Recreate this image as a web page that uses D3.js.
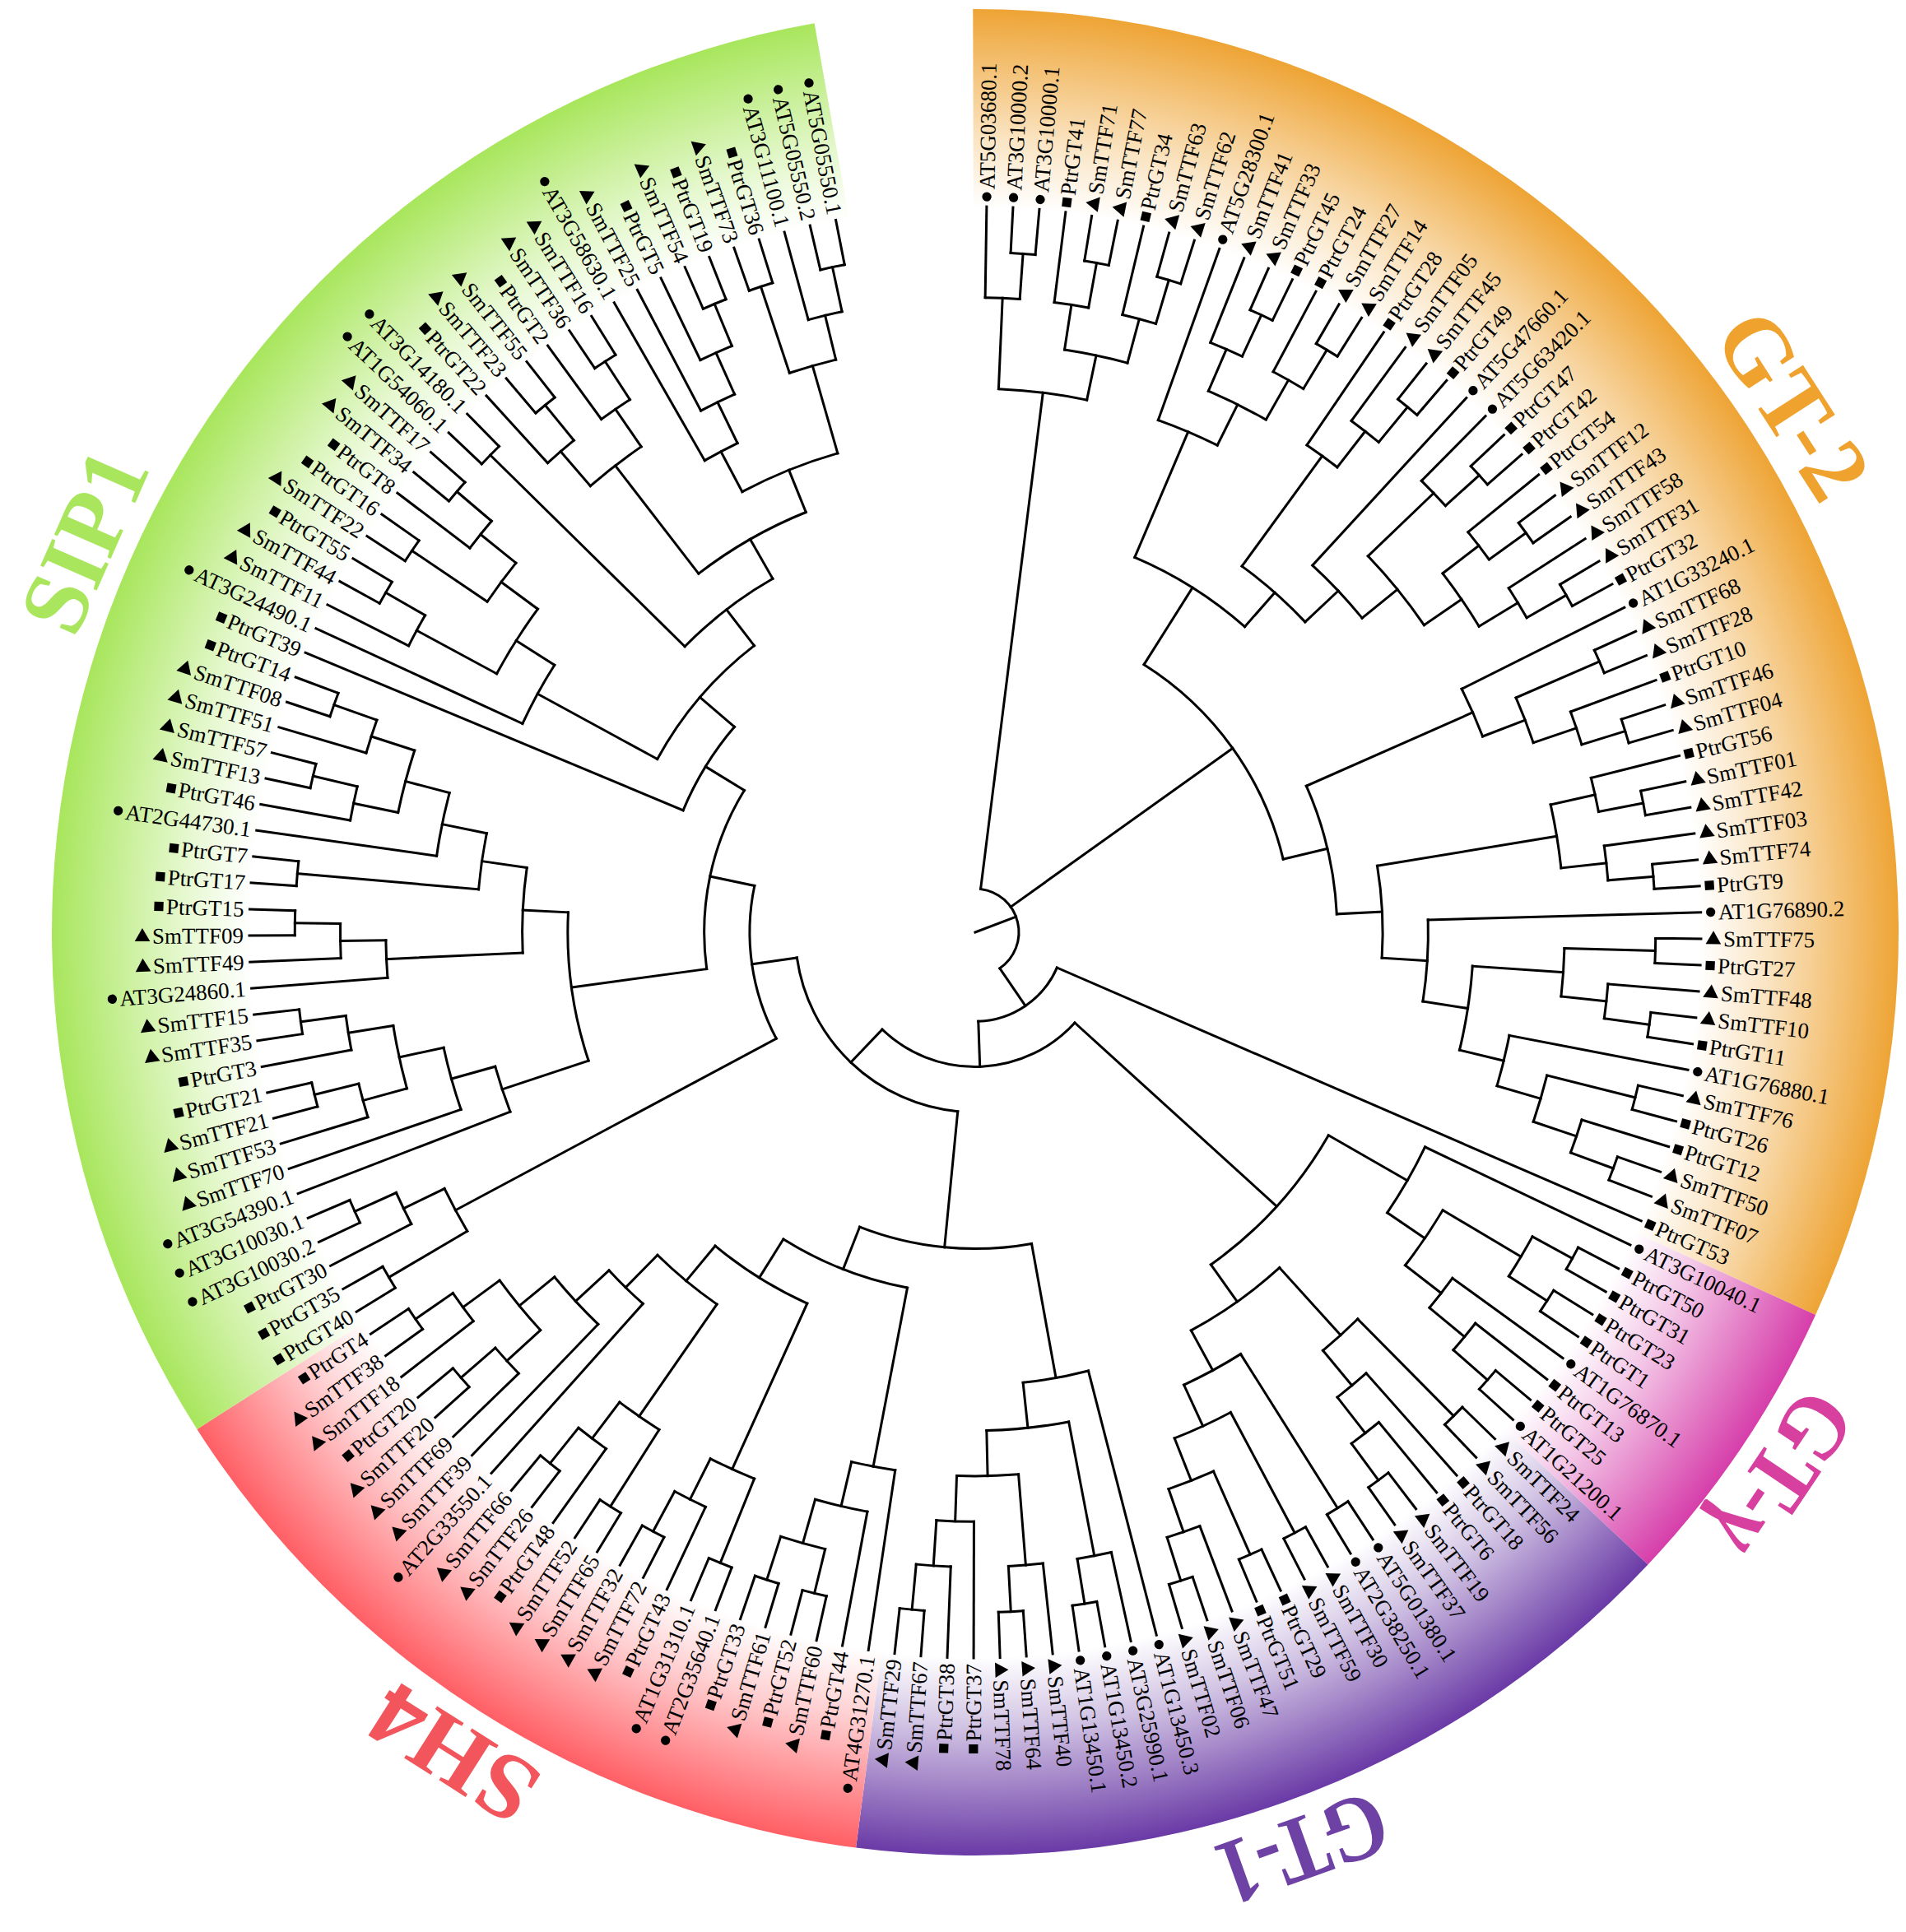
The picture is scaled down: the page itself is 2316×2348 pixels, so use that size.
<!DOCTYPE html>
<html>
<head>
<meta charset="utf-8">
<script src="https://cdn.jsdelivr.net/npm/d3@7"></script>
<style>
  body { margin: 0; background: #fff; }
</style>
</head>
<body>
<svg id="chart"></svg>
<script>
// tree topology as nested arrays, leaves listed clockwise from 12 o'clock
var gt2TopClade = [["AT5G03680.1",["AT3G10000.2","AT3G10000.1"]],[["PtrGT41",["SmTTF71","SmTTF77"]],["PtrGT34",["SmTTF63","SmTTF62"]]]];

var gt2Clade1 = [
  ["AT5G28300.1",[["SmTTF41",["SmTTF33","PtrGT45"]],["PtrGT24",["SmTTF27","SmTTF14"]]]],
  [["PtrGT28",["SmTTF05",["SmTTF45","PtrGT49"]]],
   ["AT5G47660.1",[["AT5G63420.1",["PtrGT47","PtrGT42"]],[["PtrGT54",["SmTTF12","SmTTF43"]],["SmTTF58",["SmTTF31","PtrGT32"]]]]]]
];

var gt2Clade2 = [
  ["AT1G33240.1",[["SmTTF68","SmTTF28"],["PtrGT10",["SmTTF46","SmTTF04"]]]],
  [[["PtrGT56",["SmTTF01","SmTTF42"]],["SmTTF03",["SmTTF74","PtrGT9"]]],
   ["AT1G76890.2",[[["SmTTF75","PtrGT27"],["SmTTF48",["SmTTF10","PtrGT11"]]],
                   ["AT1G76880.1",[["SmTTF76","PtrGT26"],["PtrGT12",["SmTTF50","SmTTF07"]]]]]]]
];

var gtGammaClade = ["AT3G10040.1",[[["PtrGT50","PtrGT31"],["PtrGT23","PtrGT1"]],["AT1G76870.1",["PtrGT13",["PtrGT25","AT1G21200.1"]]]]];

var gt1Clade = [
  [["SmTTF24","SmTTF56"],["PtrGT18",["PtrGT6",["SmTTF19","SmTTF37"]]]],
  [["AT5G01380.1","AT2G38250.1"],[["SmTTF30","SmTTF59"],[["PtrGT29","PtrGT51"],["SmTTF47",["SmTTF06","SmTTF02"]]]]]
];

var gt1bClade = ["AT1G13450.3",[["AT3G25990.1",["AT1G13450.2","AT1G13450.1"]],
                 [["SmTTF40",["SmTTF64","SmTTF78"]],["PtrGT37",["PtrGT38",["SmTTF67","SmTTF29"]]]]]];

var sh4Clade = [
  ["AT4G31270.1",["PtrGT44",[["SmTTF60","PtrGT52"],["SmTTF61","PtrGT33"]]]],
  [[["AT2G35640.1","AT1G31310.1"],["PtrGT43",["SmTTF72","SmTTF32"]]],
   [[["SmTTF65","SmTTF52"],["PtrGT48",["SmTTF26","SmTTF66"]]],
    ["AT2G33550.1",["SmTTF39",[["SmTTF69",["SmTTF20","PtrGT20"]],["SmTTF18",["SmTTF38","PtrGT4"]]]]]]]
];

var sip1BaseClade = [["PtrGT40","PtrGT35"],["PtrGT30",["AT3G10030.2","AT3G10030.1"]]];

var sip1Clade1 = [
  ["AT3G54390.1",["SmTTF70",[["SmTTF53",["SmTTF21","PtrGT21"]],["PtrGT3",["SmTTF35","SmTTF15"]]]]],
  [["AT3G24860.1",["SmTTF49",["SmTTF09","PtrGT15"]]],
   [["PtrGT17","PtrGT7"],["AT2G44730.1",[["PtrGT46",["SmTTF13","SmTTF57"]],["SmTTF51",["SmTTF08","PtrGT14"]]]]]]
];

var sip1Clade2 = ["PtrGT39",[
  ["AT3G24490.1",[["SmTTF11",["SmTTF44","PtrGT55"]],[["SmTTF22","PtrGT16"],["PtrGT8",["SmTTF34","SmTTF17"]]]]],
  [["AT1G54060.1","AT3G14180.1"],
   [[["PtrGT22",["SmTTF23","SmTTF55"]],["PtrGT2",["SmTTF36","SmTTF16"]]],
    [["AT3G58630.1",["SmTTF25",["PtrGT5",["SmTTF54","PtrGT19"]]]],
     [["SmTTF73","PtrGT36"],["AT3G11100.1",["AT5G05550.2","AT5G05550.1"]]]]]]
]];

var treeData = [gt2TopClade, [gt2Clade1, gt2Clade2],
  ["PtrGT53", [[gtGammaClade, gt1Clade], [[gt1bClade, sh4Clade], [sip1BaseClade, [sip1Clade1, sip1Clade2]]]]]];

// subfamily sectors
var groupNames = ["GT-2", "GT-γ", "GT-1", "SH4", "SIP1"];
var groupFirstLeaf = ["AT5G03680.1", "AT3G10040.1", "SmTTF24", "AT4G31270.1", "PtrGT40"];
var groupLastLeaf = ["PtrGT53", "AT1G21200.1", "SmTTF29", "PtrGT4", "AT5G05550.1"];

// styling
var groupColor = {"GT-2": "#EEA435", "GT-γ": "#D63EAA", "GT-1": "#6A3AA6", "SH4": "#FF5F65", "SIP1": "#A8E65C"};
var groupTextColor = {"GT-2": "#EFA22E", "GT-γ": "#D7409E", "GT-1": "#6E41A4", "SH4": "#F2565C", "SIP1": "#A9E65D"};
var groupTextLength = {"GT-2": 246, "GT-γ": 215, "GT-1": 212, "SH4": 218, "SIP1": 228};

var width = 2316, height = 2348;
var cx = 1185, cy = 1133;
var outerR = 1122;
var tipR = 882;

var svg = d3.select("#chart").attr("width", width).attr("height", height);
var defs = svg.append("defs");
var g = svg.append("g").attr("transform", "translate(" + cx + "," + cy + ")");

var root = d3.hierarchy(treeData, function(d) { return Array.isArray(d) ? d : null; });
d3.cluster().size([1, 1]).separation(function() { return 1; })(root);

// angle in degrees, clockwise from 12 o'clock
var angle = d3.scaleLinear().domain([0, 1]).range([-0.14, 349.97]);
var radius = d3.scaleLinear().domain([0, 1]).range([53, tipR]);

function rad(deg) { return deg * Math.PI / 180; }
function px(deg, r) { return r * Math.sin(rad(deg)); }
function py(deg, r) { return -r * Math.cos(rad(deg)); }

var leaves = root.leaves();
var leafNames = leaves.map(function(d) { return d.data; });
var nLeaves = leaves.length;

// coloured sectors with radial fade
var sectors = groupNames.map(function(name, i) {
  var i0 = leafNames.indexOf(groupFirstLeaf[i]);
  var i1 = leafNames.indexOf(groupLastLeaf[i]);
  return {name: name, a0: angle(i0 / nLeaves), a1: angle((i1 + 1) / nLeaves)};
});

sectors.forEach(function(s, i) {
  var grad = defs.append("radialGradient")
    .attr("id", "grad" + i)
    .attr("gradientUnits", "userSpaceOnUse")
    .attr("cx", 0).attr("cy", 0).attr("r", outerR);
  grad.append("stop").attr("offset", 0.785).attr("stop-color", "#ffffff");
  grad.append("stop").attr("offset", 0.86).attr("stop-color", d3.interpolateRgb("#ffffff", groupColor[s.name])(0.3));
  grad.append("stop").attr("offset", 1).attr("stop-color", groupColor[s.name]);
});

var arcGen = d3.arc();
g.append("g").selectAll("path")
  .data(sectors)
  .join("path")
  .attr("d", function(s) {
    return arcGen({innerRadius: 0, outerRadius: outerR, startAngle: rad(s.a0), endAngle: rad(s.a1)});
  })
  .attr("fill", function(s, i) { return "url(#grad" + i + ")"; });

// branches
var treeG = g.append("g")
  .attr("fill", "none")
  .attr("stroke", "#000")
  .attr("stroke-width", 3)
  .attr("stroke-linecap", "square");

treeG.selectAll("path.link")
  .data(root.links())
  .join("path")
  .attr("class", "link")
  .attr("d", function(l) {
    var a = angle(l.target.x), r0 = radius(l.source.y), r1 = radius(l.target.y);
    return "M" + px(a, r0) + "," + py(a, r0) + "L" + px(a, r1) + "," + py(a, r1);
  });

treeG.selectAll("path.node")
  .data(root.descendants().filter(function(d) { return d.children; }))
  .join("path")
  .attr("class", "node")
  .attr("d", function(d) {
    var r = radius(d.y);
    var a0 = angle(d.children[0].x), a1 = angle(d.children[d.children.length - 1].x);
    var p = d3.path();
    p.moveTo(px(a0, r), py(a0, r));
    p.arc(0, 0, r, rad(a0 - 90), rad(a1 - 90), false);
    return p.toString();
  });

// root stub
treeG.append("path").attr("d", function() {
  var a = angle(root.x), r = radius(root.y);
  return "M0,0L" + px(a, r) + "," + py(a, r);
});

// leaf labels
function markerType(name) {
  if (name.indexOf("AT") === 0) return "circle";
  if (name.indexOf("Ptr") === 0) return "square";
  return "triangle";
}
var symbolFor = {
  circle: d3.symbol().type(d3.symbolCircle).size(100)(),
  square: d3.symbol().type(d3.symbolSquare).size(125)(),
  triangle: d3.symbol().type(d3.symbolTriangle).size(150)()
};

var labels = g.append("g").selectAll("g")
  .data(leaves)
  .join("g")
  .attr("transform", function(d) {
    var a = angle(d.x);
    return "rotate(" + (a - 90) + ") translate(" + tipR + ",0)" + (a > 180 ? " rotate(180)" : "");
  });

labels.each(function(d) {
  var sel = d3.select(this);
  var a = angle(d.x);
  var flip = a > 180;
  var type = markerType(d.data);
  var tri = type === "triangle";
  var txt = sel.append("text")
    .attr("font-family", "'Liberation Serif', 'Times New Roman', serif")
    .attr("font-size", 27)
    .attr("dy", "0.34em")
    .attr("fill", "#000")
    .attr("text-anchor", flip ? "end" : "start")
    .attr("x", flip ? -7 : (tri ? 27 : 21))
    .text(d.data);
  var mx;
  if (flip) {
    var w = txt.node().getComputedTextLength();
    mx = -(7 + w + (tri ? 12 : 9));
  } else {
    mx = tri ? 15 : 12;
  }
  sel.append("path")
    .attr("d", symbolFor[type])
    .attr("transform", "translate(" + mx + "," + (tri ? 1 : 0) + ")")
    .attr("fill", "#000");
});

// subfamily names
g.append("g").selectAll("text")
  .data(sectors)
  .join("text")
  .attr("transform", function(s) { return "rotate(" + ((s.a0 + s.a1) / 2) + ") translate(0,-1182)"; })
  .attr("text-anchor", "middle")
  .attr("dy", "0.33em")
  .attr("font-family", "'Liberation Serif', 'Times New Roman', serif")
  .attr("font-weight", "bold")
  .attr("font-size", 114)
  .attr("textLength", function(s) { return groupTextLength[s.name]; })
  .attr("lengthAdjust", "spacingAndGlyphs")
  .attr("fill", function(s) { return groupTextColor[s.name]; })
  .text(function(s) { return s.name; });
</script>
</body>
</html>
